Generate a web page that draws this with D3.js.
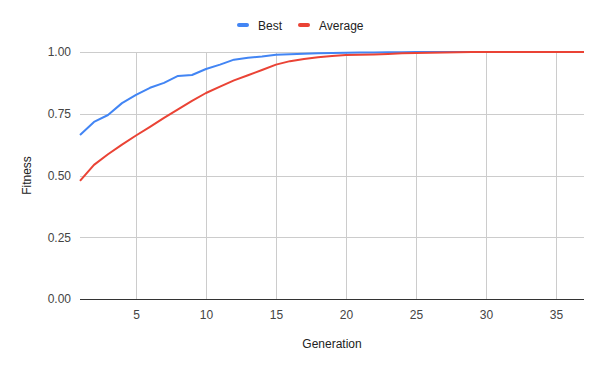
<!DOCTYPE html>
<html>
<head>
<meta charset="utf-8">
<script src="https://cdn.jsdelivr.net/npm/d3@7"></script>
<style>
  body { margin: 0; background: #fff; }
  svg { font-family: Arial, "Liberation Sans", sans-serif; }
</style>
</head>
<body>
<div id="chart"></div>
<script>
// generation numbers and the two fitness series
var generations = d3.range(1, 38);
var best = [0.664, 0.717, 0.745, 0.793, 0.826, 0.855, 0.875, 0.903, 0.907, 0.931,
  0.949, 0.969, 0.977, 0.982, 0.989, 0.991, 0.993, 0.995, 0.996, 0.997,
  0.998, 0.998, 0.999, 0.999, 1, 1, 1, 1, 1, 1,
  1, 1, 1, 1, 1, 1, 1];
var average = [0.478, 0.543, 0.586, 0.625, 0.662, 0.697, 0.733, 0.768, 0.802, 0.834,
  0.86, 0.885, 0.906, 0.927, 0.949, 0.963, 0.972, 0.979, 0.984, 0.988,
  0.989, 0.99, 0.992, 0.995, 0.996, 0.997, 0.998, 0.999, 1, 1,
  1, 1, 1, 1, 1, 1, 1];
var xTicks = [5, 10, 15, 20, 25, 30, 35];
var yTicks = [0, 0.25, 0.5, 0.75, 1];
var seriesNames = ['Best', 'Average'];
var seriesColors = ['#4285f4', '#ea4335'];

var width = 600, height = 371;
var margin = {top: 52, right: 16, bottom: 72, left: 80};

var svg = d3.select('#chart').append('svg')
  .attr('width', width).attr('height', height);

var x = d3.scaleLinear().domain([1, 37]).range([margin.left, width - margin.right]);
var y = d3.scaleLinear().domain([0, 1]).range([height - margin.bottom, margin.top]);

// gridlines
svg.append('g').selectAll('line.v')
  .data(xTicks).enter().append('line')
  .attr('x1', function(d) { return Math.round(x(d)) + 0.5; })
  .attr('x2', function(d) { return Math.round(x(d)) + 0.5; })
  .attr('y1', y(1)).attr('y2', y(0))
  .attr('stroke', '#cccccc');

svg.append('g').selectAll('line.h')
  .data(yTicks.slice(1)).enter().append('line')
  .attr('x1', x(1)).attr('x2', x(37))
  .attr('y1', function(d) { return Math.round(y(d)) + 0.5; })
  .attr('y2', function(d) { return Math.round(y(d)) + 0.5; })
  .attr('stroke', '#cccccc');

// axes, only using d3 for the label placement
var xAxis = svg.append('g')
  .attr('transform', 'translate(0,' + (y(0) + 8) + ')')
  .call(d3.axisBottom(x).tickValues(xTicks).tickSize(0).tickFormat(d3.format('d')));
xAxis.select('.domain').remove();
xAxis.selectAll('text').attr('font-size', 12).attr('fill', '#444').attr('font-family', null);

var yAxis = svg.append('g')
  .attr('transform', 'translate(' + (x(1) - 6) + ',0)')
  .call(d3.axisLeft(y).tickValues(yTicks).tickSize(0).tickFormat(d3.format('.2f')));
yAxis.select('.domain').remove();
yAxis.selectAll('text').attr('font-size', 12).attr('fill', '#444').attr('font-family', null);

// baseline
svg.append('line')
  .attr('x1', x(1)).attr('x2', x(37))
  .attr('y1', Math.round(y(0)) + 0.5).attr('y2', Math.round(y(0)) + 0.5)
  .attr('stroke', '#333');

// lines
var line = d3.line()
  .x(function(d, i) { return x(generations[i]); })
  .y(function(d) { return y(d); });

[best, average].forEach(function(series, k) {
  svg.append('path')
    .datum(series)
    .attr('d', line)
    .attr('fill', 'none')
    .attr('stroke', seriesColors[k])
    .attr('stroke-width', 2)
    .attr('stroke-linejoin', 'round');
});

// axis titles
svg.append('text')
  .attr('x', (x(1) + x(37)) / 2).attr('y', 348)
  .attr('text-anchor', 'middle')
  .attr('font-size', 12).attr('fill', '#222')
  .text('Generation');

svg.append('text')
  .attr('transform', 'translate(31,' + ((y(0) + y(1)) / 2) + ') rotate(-90)')
  .attr('text-anchor', 'middle')
  .attr('font-size', 12).attr('fill', '#222')
  .text('Fitness');

// legend
var legendX = [237, 298];
var legend = svg.append('g');
seriesNames.forEach(function(name, k) {
  legend.append('rect')
    .attr('x', legendX[k]).attr('y', 23)
    .attr('width', 12).attr('height', 4).attr('rx', 2)
    .attr('fill', seriesColors[k]);
  legend.append('text')
    .attr('x', legendX[k] + 21).attr('y', 29.5)
    .attr('font-size', 12).attr('fill', '#222')
    .text(name);
});
</script>
</body>
</html>
